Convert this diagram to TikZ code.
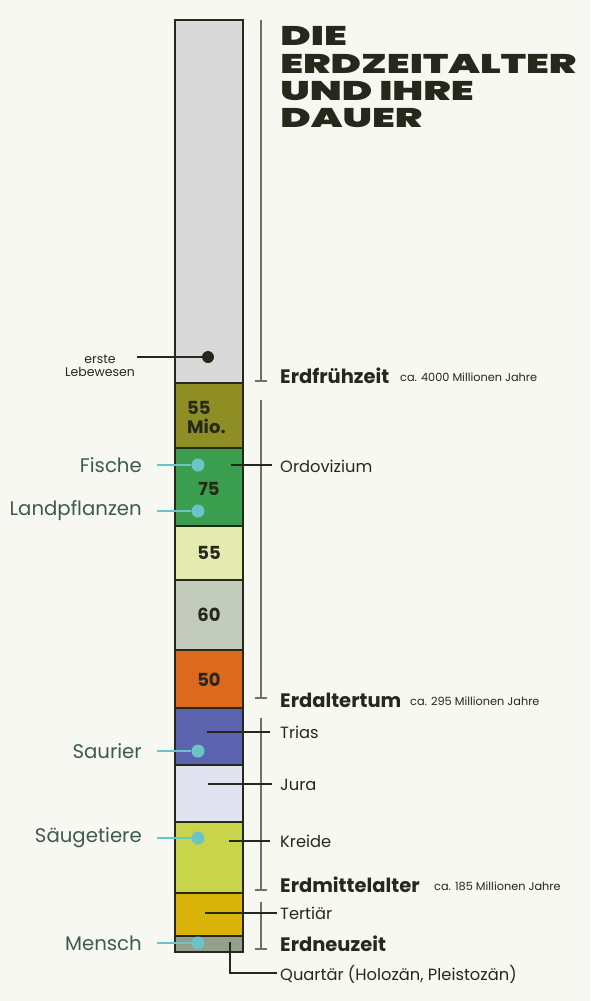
\documentclass[tikz,border=0pt]{standalone}
\usepackage{fontspec}
\setmainfont{Poppins}
\newfontfamily\titlef{Poppins}[UprightFont=* Black,BoldFont=* Black]
\definecolor{bg}{HTML}{F8F8F3}
\definecolor{dk}{HTML}{25291C}
\definecolor{tl}{HTML}{6CC4C8}
\definecolor{lbl}{HTML}{3E5A4E}
\definecolor{brk}{HTML}{6E7262}
\begin{document}
\begin{tikzpicture}[x=1pt,y=-1pt,
  seg/.style={draw=dk,line width=1.2pt},
  num/.style={font=\fontsize{18}{18}\selectfont\bfseries,text=dk,align=left},
  era/.style={font=\fontsize{19.5}{20}\selectfont\bfseries,text=dk,anchor=west,inner sep=0},
  dur/.style={font=\fontsize{11.3}{12}\selectfont,text=dk,anchor=west,inner sep=0},
  per/.style={font=\fontsize{16.3}{17}\selectfont,text=dk,anchor=west,inner sep=0},
  life/.style={font=\fontsize{19.7}{20}\selectfont,text=lbl,anchor=east,inner sep=0},
  pl/.style={dk,line width=1.8pt},
  tline/.style={tl,line width=1.8pt},
  br/.style={brk,line width=1.2pt},
  ttl/.style={font=\titlef\fontsize{27}{27}\selectfont,text=dk,anchor=base west,inner sep=0,xscale=1.52}]
\fill[bg] (0,0) rectangle (590,1001);
\useasboundingbox (0,0) rectangle (590,1001);
% column
\foreach \a/\b/\c in {20/383/D9D9D9,383/448/8E8E24,448/526/3A9E4E,526/580/E5EBB0,580/650/C3CCBC,650/708/DD6A1C,708/765/5B62AE,765/822/E2E3F1,822/893/C8D44A,893/936/D9B40A,936/952/959E8D}{
  \definecolor{cc}{HTML}{\c}
  \filldraw[seg,fill=cc] (175,\a) rectangle (243,\b);}
% title
\node[ttl] (t1) at (280,45) {DIE};
\node[ttl] (t2) at (280,73) {ERDZEITALTER};
\node[ttl] (t3) at (280,100) {UND IHRE};
\node[ttl] (t4) at (280,127) {DAUER};
% brackets
\draw[br] (261,20) -- (261,381) (255,381) -- (267,381);
\draw[br] (261,400) -- (261,698) (255,698) -- (267,698);
\draw[br] (261,718) -- (261,890) (255,890) -- (267,890);
\draw[br] (261,902) -- (261,949) (255,949) -- (267,949);
% era labels
\node[era] (e1) at (280,376) {Erdfrühzeit};
\node[dur] (d1) at (400,377) {ca. 4000 Millionen Jahre};
\node[era] (e2) at (280,700) {Erdaltertum};
\node[dur] (d2) at (410,701) {ca. 295 Millionen Jahre};
\node[era] (e3) at (280,885) {Erdmittelalter};
\node[dur] (d3) at (434,886) {ca. 185 Millionen Jahre};
\node[era] (e4) at (280,944) {Erdneuzeit};
% numbers
\node[num,anchor=west,inner sep=0] (n1) at (187,417) {55\\[1pt]Mio.};
\node[num] (n2) at (209,489) {75};
\node[num] (n3) at (209,553) {55};
\node[num] (n4) at (209,615) {60};
\node[num] (n5) at (209,680) {50};
% periods
\node[per] (p1) at (280,466) {Ordovizium};
\node[per] (p2) at (280,732) {Trias};
\node[per] (p3) at (280,785) {Jura};
\node[per] (p4) at (280,841) {Kreide};
\node[per] (p5) at (280,913) {Tertiär};
\node[per] (p6) at (280,974) {Quartär (Holozän, Pleistozän)};
\coordinate (c1) at (231,465); \coordinate (c2) at (207,732);
\coordinate (c3) at (208,784); \coordinate (c4) at (229,841);
\coordinate (c5) at (205,913); \coordinate (c6) at (230,942);
\draw[pl] (c1) -- (272,465); \draw[pl] (c2) -- (270,732);
\draw[pl] (c3) -- (272,784); \draw[pl] (c4) -- (270,841);
\draw[pl] (c5) -- (277,913);
\draw[pl] (c6) |- (277,973);
% first life
\node[font=\fontsize{12.5}{13}\selectfont,text=dk,align=center,anchor=east,inner sep=0] (el) at (135,366) {erste\\Lebewesen};
\node[circle,fill=dk,minimum size=12pt,inner sep=0] (ed) at (208,357) {};
\draw[pl] (137,357) -- (ed);
% life labels
\foreach \n/\t/\y in {f/Fische/465,l/Landpflanzen/511,s/Saurier/751,m/Säugetiere/838,h/Mensch/943}{
  \node[life] (\n) at (142,\y) {\t};
  \node[circle,fill=tl,minimum size=13pt,inner sep=0] (\n d) at (198,\y) {};
  \draw[tline] (157,\y) -- (\n d);}
\end{tikzpicture}
\end{document}
